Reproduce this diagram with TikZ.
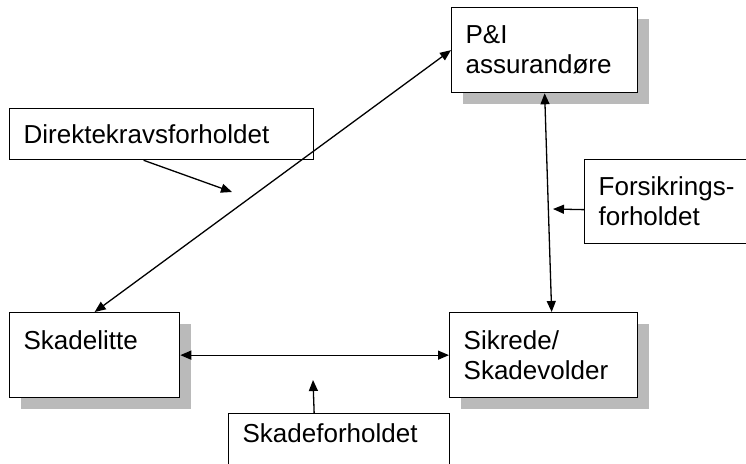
\documentclass[tikz,border=0pt]{standalone}
\usepackage{fontspec}
\setmainfont{Liberation Sans}
\usetikzlibrary{arrows.meta,shadows}

\begin{document}
\begin{tikzpicture}[x=1pt,y=-1pt,font=\fontsize{26}{30}\selectfont,line width=1.3pt,>={Triangle[length=11pt,width=9pt]}]
    \tikzstyle{box}=[draw,fill=white,anchor=north west,align=left,inner xsep=14pt,inner ysep=0pt]
    \tikzstyle{party}=[box,drop shadow={shadow xshift=11pt,shadow yshift=-11pt,fill=black!27,opacity=1}]
    \clip (0,0) rectangle (746,463);
    \node[party,text width=158pt,minimum height=85pt] (pi) at (451,7)   {P\&I\\assurandøre};
    \node[party,text width=142pt,minimum height=85pt] (sl) at (9,312)   {Skadelitte\\\mbox{}};
    \node[party,text width=160pt,minimum height=85pt] (sv) at (449,312) {Sikrede/\\Skadevolder};
    \node[box,text width=276pt,minimum height=51pt]   (dk) at (9,108)   {Direktekravsforholdet};
    \node[box,text width=152pt,minimum height=84pt]   (fo) at (584,159) {Forsikrings-\\forholdet};
    \node[box,text width=193pt,minimum height=69pt]   (sf) at (228,413) {Skadeforholdet\\\mbox{}};
    \coordinate (dkend) at (232,192);
    \coordinate (foend) at (553,209);
    \coordinate (sfend) at (313,380);
    \draw[<->] (sl.north) -- (pi.west);
    \draw[<->] (pi.south) -- ([xshift=8pt]sv.north);
    \draw[<->] (sl.east) -- (sv.west);
    \draw[->] ([xshift=-18pt]dk.south) -- (dkend);
    \draw[->] ([yshift=-8pt]fo.west) -- (foend);
    \draw[->] ([xshift=-25pt]sf.north) -- (sfend);
\end{tikzpicture}
\end{document}
